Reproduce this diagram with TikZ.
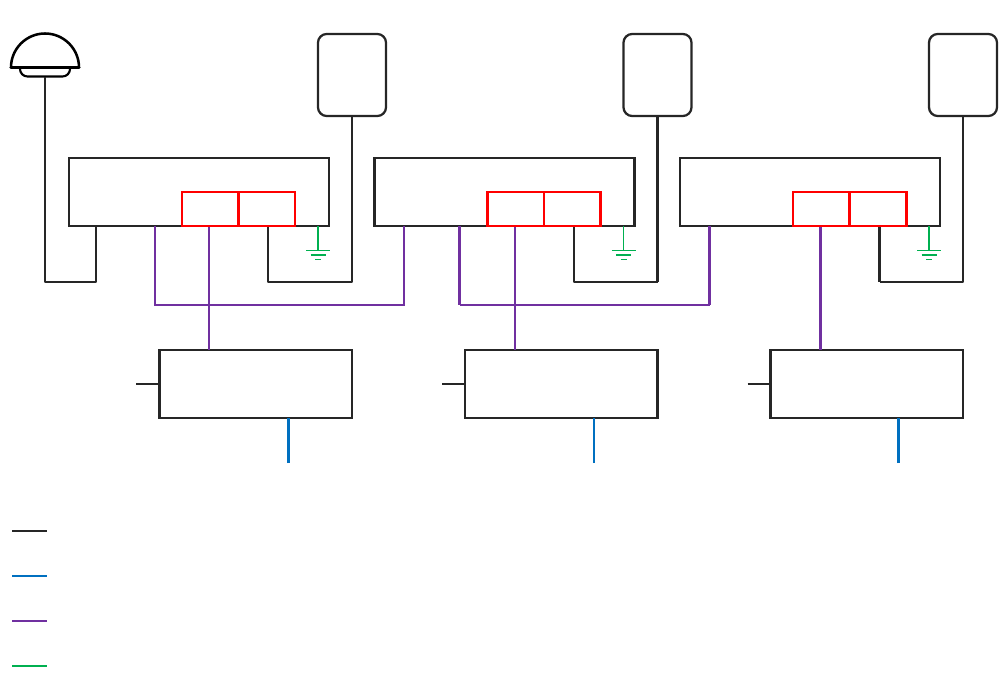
\documentclass[tikz,border=0pt]{standalone}
\begin{document}
\begin{tikzpicture}[x=0.75pt,y=-0.75pt,line join=miter,
  wire/.style={draw=linecol,line width=1.6pt},
  box/.style={draw=linecol,line width=1.6pt,inner sep=0pt,outer sep=0pt,anchor=north west},
  unitbox/.style={box,minimum width=195pt,minimum height=51pt},
  lowerbox/.style={box,minimum width=144.5pt,minimum height=51pt},
  redbox/.style={draw=redcol,line width=1.6pt,inner sep=0pt,outer sep=0pt,anchor=north west,minimum width=42.4pt,minimum height=25.5pt},
  padbox/.style={box,rounded corners=6.5pt,line width=1.7pt,minimum width=51pt,minimum height=61.5pt},
  purplew/.style={draw=purplecol,line width=1.6pt},
  bluew/.style={draw=bluecol,line width=1.6pt},
  greenw/.style={draw=greencol,line width=1.6pt},
  heavy/.style={line width=2.2pt}]
\definecolor{linecol}{HTML}{262626}
\definecolor{bluecol}{HTML}{0070C0}
\definecolor{purplecol}{HTML}{7030A0}
\definecolor{greencol}{HTML}{00B050}
\definecolor{redcol}{HTML}{FF0000}
\useasboundingbox (0,0) rectangle (999,674);

% Dome
\draw[black,line width=1.6pt] (20,68) -- (20,69) arc[start angle=180,end angle=90,radius=7.5] -- (62.5,76.5) arc[start angle=90,end angle=0,radius=7.5] -- (70,68);
\draw[black,line width=1.9pt] (11,67.5) arc[start angle=180,end angle=360,radius=34];
\draw[black,line width=2.4pt,line cap=round] (11,67.5) -- (79,67.5);
\coordinate (dome) at (45,77);

% Pads
\node[padbox] (p1) at (318,34) {};
\node[padbox] (p2) at (623.5,34) {};
\node[padbox] (p3) at (929,34) {};

% Units
\node[unitbox] (u1) at (69,158) {};
\node[unitbox] (u2) at (374.5,158) {};
\node[unitbox] (u3) at (680,158) {};

% Lower boxes
\node[lowerbox] (l1) at (159.5,350) {};
\node[lowerbox] (l2) at (465,350) {};
\node[lowerbox] (l3) at (770.5,350) {};

% Heavier rendered edges
\draw[wire,heavy] (u2.north west) -- (u2.south west);
\draw[wire,heavy] (u3.north east) -- (u3.south east);
\draw[wire,heavy] (l1.north west) -- (l1.south west);
\draw[wire,heavy] (l2.north east) -- (l2.south east);
\draw[wire,heavy] (l3.north west) -- (l3.south west);

% Black connectors
\draw[wire,line join=round] (dome) |- (96,282) -- (96,226);
\draw[wire,line join=round] (268,226) |- (p1.south |- 0,282) -- (p1.south);
\draw[wire,line join=round] (574,226) |- (p2.south |- 0,282);
\draw[wire,heavy] (p2.south |- 0,282) -- (p2.south);
\draw[wire,heavy] (879.5,226) -- (879.5,282);
\draw[wire,line join=round] (879.5,282) -| (p3.south);

% Left stubs
\coordinate (s1) at (136,384);
\coordinate (s2) at (442,384);
\coordinate (s3) at (747.5,384);
\draw[wire] (s1) -- (l1.west);
\draw[wire] (s2) -- (l2.west);
\draw[wire] (s3) -- (l3.west);

% Blue outputs
\coordinate (b1) at (288.5,463);
\coordinate (b2) at (594,463);
\coordinate (b3) at (898.5,463);
\draw[bluew,heavy] (b1) -- (b1 |- l1.south);
\draw[bluew] (b2) -- (b2 |- l2.south);
\draw[bluew,heavy] (b3) -- (b3 |- l3.south);

% Purple
\draw[purplew] (155,226) |- (404,305) -- (404,226);
\draw[purplew] (459.5,305) -- (709.5,305);
\draw[purplew,heavy] (459.5,226) -- (459.5,305);
\draw[purplew,heavy] (709.5,226) -- (709.5,305);
\draw[purplew] (209,226) -- (209,350);
\draw[purplew] (515,226) -- (515,350);
\draw[purplew,heavy] (820.5,226) -- (820.5,350);

% Red boxes
\node[redbox] (r1a) at (182,192) {};
\node[redbox] (r1b) at (238.5,192) {};
\node[redbox] (r2a) at (487.5,192) {};
\node[redbox] (r2b) at (544,192) {};
\node[redbox] (r3a) at (793,192) {};
\node[redbox] (r3b) at (850,192) {};
\draw[redcol,heavy] (r1b.north west) -- (r1b.south west);
\draw[redcol,heavy] (r2a.north west) -- (r2a.south west);
\draw[redcol,heavy] (r2b.north east) -- (r2b.south east);
\draw[redcol,heavy] (r3b.north east) -- (r3b.south east);

% Grounds
\foreach \gx/\gw in {318/1.6pt,623.5/0.7pt,929/1.6pt}{
  \draw[greencol,line width=\gw] (\gx,226) -- (\gx,250);
  \draw[greencol,line width=0.75pt] (\gx-12,250) -- (\gx+12,250);
  \draw[greencol,line width=1.6pt] (\gx-7.5,255) -- (\gx+7.5,255);
  \draw[greencol,line width=0.75pt] (\gx-3,259) -- (\gx+3,259);
}

% Legend
\coordinate (k1) at (12,531); \coordinate (k2) at (12,576);
\coordinate (k3) at (12,621); \coordinate (k4) at (12,666);
\draw[wire] (k1) -- +(35,0);
\draw[bluew] (k2) -- +(35,0);
\draw[purplew] (k3) -- +(35,0);
\draw[greenw] (k4) -- +(35,0);
\end{tikzpicture}
\end{document}
